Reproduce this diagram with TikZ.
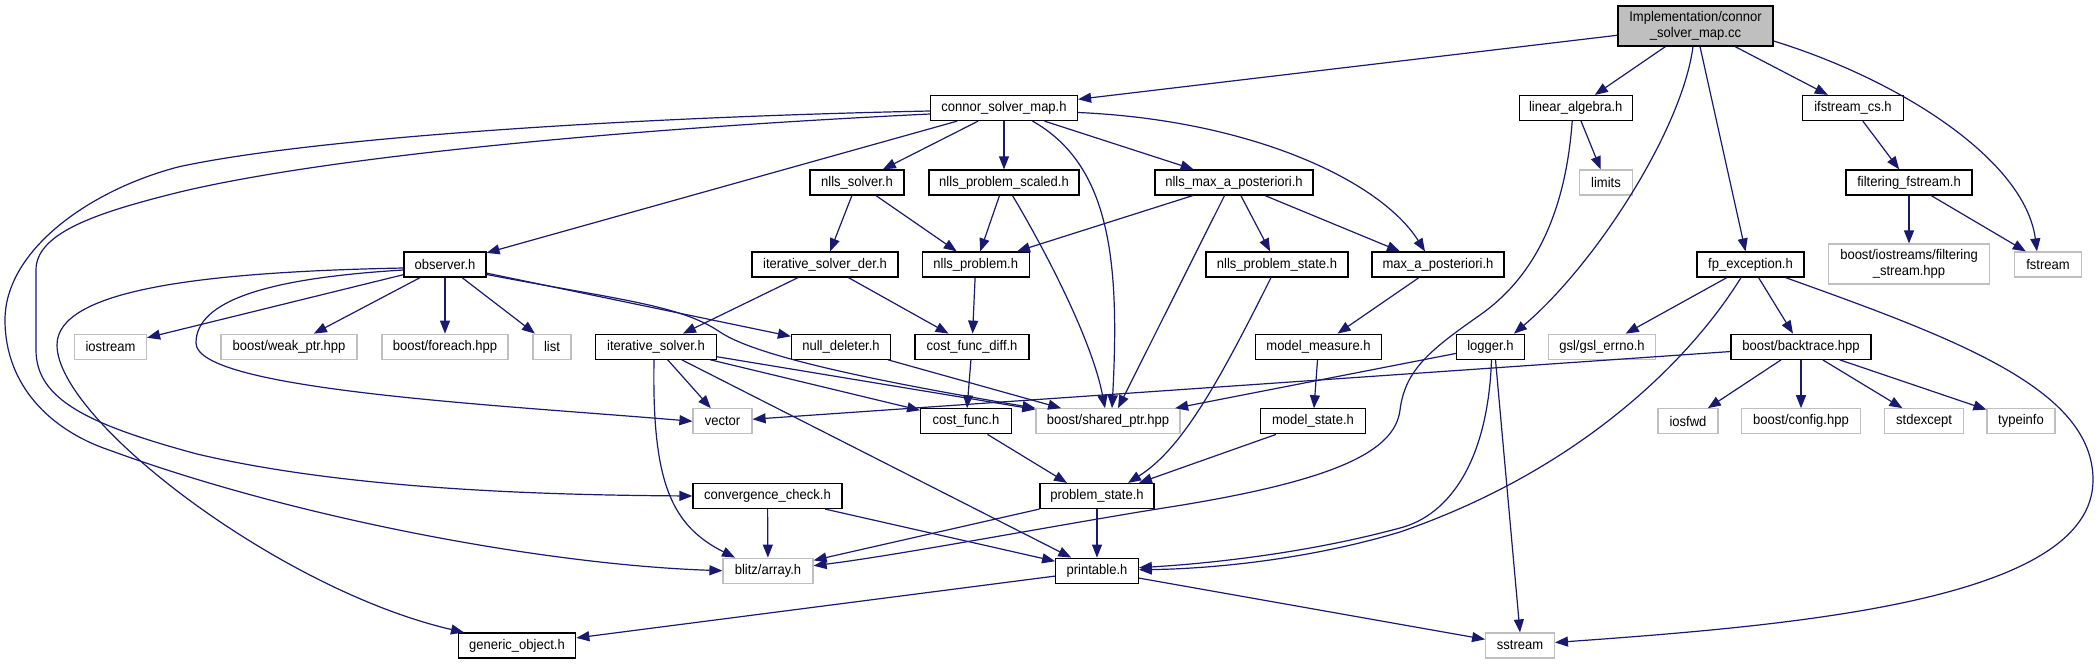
\documentclass[tikz,border=0pt]{standalone}
\usepackage{fontspec}
\setmainfont[FakeStretch=0.93]{Liberation Sans}
\usetikzlibrary{arrows.meta}
\definecolor{edgeblue}{HTML}{191970}
\definecolor{extgray}{HTML}{BFBFBF}
\begin{document}
\begin{tikzpicture}[x=1pt,y=-1pt,
  box/.style={draw=black, line width=1.2pt, rectangle, inner sep=0pt, minimum height=25pt,
              font=\fontsize{14}{16}\selectfont, align=center},
  ext/.style={box, draw=extgray},
  edge/.style={draw=edgeblue, line width=1.2pt, -{Triangle[length=13pt,width=10pt]}},
]
\useasboundingbox (0,0) rectangle (2099,664);
% rank 0
\node[box, fill=extgray, minimum width=155pt, minimum height=40pt] (root) at (1695.5,26) {Implementation/connor\\\_solver\_map.cc};
% rank 1
\node[box, minimum width=147pt] (csm) at (1004,108) {connor\_solver\_map.h};
\node[box, minimum width=113pt] (la) at (1575.7,108) {linear\_algebra.h};
\node[box, minimum width=101pt] (ifs) at (1853,108) {ifstream\_cs.h};
% rank 2
\node[box, minimum width=94pt] (nsolver) at (857,182.5) {nlls\_solver.h};
\node[box, minimum width=150pt] (nps) at (1004,182.5) {nlls\_problem\_scaled.h};
\node[box, minimum width=158pt] (nmap) at (1234,182.5) {nlls\_max\_a\_posteriori.h};
\node[ext, minimum width=53pt] (limits) at (1606,182.5) {limits};
\node[box, minimum width=126pt] (ffs) at (1909,182.5) {filtering\_fstream.h};
% rank 3
\node[box, minimum width=82pt] (observer) at (445,264.5) {observer.h};
\node[box, minimum width=146pt] (isd) at (825,264.5) {iterative\_solver\_der.h};
\node[box, minimum width=107pt] (np) at (975.7,264.5) {nlls\_problem.h};
\node[box, minimum width=142pt] (nps2) at (1277,264.5) {nlls\_problem\_state.h};
\node[box, minimum width=132pt] (map) at (1438,264.5) {max\_a\_posteriori.h};
\node[box, minimum width=107pt] (fpe) at (1750.5,264.5) {fp\_exception.h};
\node[ext, minimum width=161pt, minimum height=40pt] (bifs) at (1909,264) {boost/iostreams/filtering\\\_stream.hpp};
\node[ext, minimum width=67pt] (fstream) at (2048,264.5) {fstream};
% rank 4
\node[ext, minimum width=72pt] (iostream) at (110.5,346.7) {iostream};
\node[ext, minimum width=136pt] (weak) at (289,346.7) {boost/weak\_ptr.hpp};
\node[ext, minimum width=126pt] (foreach) at (445,346.7) {boost/foreach.hpp};
\node[ext, minimum width=38pt] (list) at (552,346.7) {list};
\node[box, minimum width=121pt] (is) at (656,346.7) {iterative\_solver.h};
\node[box, minimum width=99pt] (nd) at (841,346.7) {null\_deleter.h};
\node[box, minimum width=114pt] (cfd) at (972,346.7) {cost\_func\_diff.h};
\node[box, minimum width=125.5pt] (mm) at (1318.5,346.7) {model\_measure.h};
\node[box, minimum width=68pt] (logger) at (1490.5,346.7) {logger.h};
\node[ext, minimum width=107pt] (gsl) at (1602,346.7) {gsl/gsl\_errno.h};
\node[box, minimum width=140pt] (bt) at (1801,346.7) {boost/backtrace.hpp};
% rank 5
\node[ext, minimum width=59pt] (vector) at (722.5,421.3) {vector};
\node[box, minimum width=90.6pt] (cf) at (966,421.3) {cost\_func.h};
\node[ext, minimum width=144pt] (sp) at (1108,421.3) {boost/shared\_ptr.hpp};
\node[box, minimum width=104.5pt] (ms) at (1313,421.3) {model\_state.h};
\node[ext, minimum width=60pt] (iosfwd) at (1688,421.3) {iosfwd};
\node[ext, minimum width=118.5pt] (config) at (1801,421.3) {boost/config.hpp};
\node[ext, minimum width=79pt] (stdexcept) at (1924,421.3) {stdexcept};
\node[ext, minimum width=68pt] (typeinfo) at (2021,421.3) {typeinfo};
% rank 6
\node[box, minimum width=149pt] (cc) at (767.5,496) {convergence\_check.h};
\node[box, minimum width=114pt] (ps) at (1097,496) {problem\_state.h};
% rank 7
\node[ext, minimum width=90pt] (blitz) at (768,570.7) {blitz/array.h};
\node[box, minimum width=82.6pt] (printable) at (1097,570.7) {printable.h};
% rank 8
\node[box, minimum width=117.5pt] (go) at (517,645.5) {generic\_object.h};
\node[ext, minimum width=68.7pt] (sstream) at (1520,645.5) {sstream};

% ---- edges from root
\draw[edge] (root) -- (csm);
\draw[edge] (root) -- (la);
\draw[edge] ([xshift=-2.5pt]root.south) .. controls (1682,130) and (1595,265) .. ([xshift=23.5pt]logger.north);
\draw[edge] ([xshift=4.5pt]root.south) -- ([xshift=-5pt]fpe.north);
\draw[edge] (root) -- (ifs);
\draw[edge] ([yshift=-15pt]root.east) .. controls (1900,80) and (2025,160) .. ([xshift=-11pt]fstream.north);
% ---- connor_solver_map.h
\draw[edge] (csm) -- (observer);
\draw[edge] ([yshift=-3pt]csm.west) .. controls (600,118) and (300,140) .. (178,167)
   .. controls (90,190) and (5,250) .. (5,320)
   .. controls (5,385) and (50,430) .. (109,450)
   .. controls (300,520) and (550,565) .. (blitz.west);
\draw[edge] ([yshift=-6pt]csm.west) .. controls (600,130) and (300,160) .. (164,196)
   .. controls (90,215) and (36,235) .. (36,270) -- (36,350)
   .. controls (36,400) and (90,425) .. (197,454)
   .. controls (350,490) and (550,495) .. (cc.west);
\draw[edge] (csm) -- (nsolver);
\draw[edge] (csm) -- (nps);
\draw[edge] ([xshift=28.5pt]csm.south) .. controls (1110,165) and (1120,260) .. ([xshift=4pt]sp.north);
\draw[edge] (csm) -- (nmap);
\draw[edge] ([yshift=-4.5pt]csm.east) .. controls (1250,120) and (1380,180) .. ([xshift=-13pt]map.north);
% ---- second level
\draw[edge] (nsolver) -- (isd);
\draw[edge] (nsolver) -- (np);
\draw[edge] (nps) -- (np);
\draw[edge] ([xshift=8.5pt]nps.south) .. controls (1045,250) and (1092,340) .. ([xshift=-3pt]sp.north);
\draw[edge] (nmap) -- (np);
\draw[edge] ([xshift=-9.5pt]nmap.south) -- ([xshift=10pt]sp.north);
\draw[edge] (nmap) -- (nps2);
\draw[edge] ([xshift=31pt]nmap.south) -- ([xshift=-38pt]map.north);
\draw[edge] (la) -- (limits);
\draw[edge] ([xshift=-3.5pt]la.south) .. controls (1565,220) and (1530,280) .. (1480,315)
   .. controls (1430,350) and (1405,370) .. (1400,410)
   .. controls (1395,450) and (1340,480) .. (1170,507)
   .. controls (1068,523) and (900,555) .. ([yshift=5pt]blitz.east);
\draw[edge] (ifs) -- (ffs);
\draw[edge] (ffs) -- (bifs);
\draw[edge] (ffs) -- (fstream);
% ---- third level
\draw[edge] (isd) -- (is);
\draw[edge] (isd) -- (cfd);
\draw[edge] (np) -- (cfd);
\draw[edge] ([xshift=-6pt]nps2.south) .. controls (1215,390) and (1180,450) .. ([xshift=31pt]ps.north);
\draw[edge] (map) -- (mm);
\draw[edge] (fpe) -- (gsl);
\draw[edge] (fpe) -- (bt);
\draw[edge] ([xshift=-9.5pt]fpe.south) .. controls (1690,360) and (1580,470) .. (1400,532)
   .. controls (1300,562) and (1200,569) .. ([yshift=1pt]printable.east);
\draw[edge] ([xshift=35pt]fpe.south) .. controls (1960,340) and (2093,390) .. (2093,480)
   .. controls (2093,600) and (1800,625) .. ([yshift=3pt]sstream.east);
% ---- observer.h
\draw[edge] (observer) -- (iostream);
\draw[edge] (observer) -- (weak);
\draw[edge] (observer) -- (foreach);
\draw[edge] (observer) -- (list);
\draw[edge] (observer) -- (nd);
\draw[edge] ([yshift=-10pt]observer.east) .. controls (620,300) and (680,305) .. (720,332)
   .. controls (760,359) and (900,385) .. (sp.north west);
\draw[edge] ([yshift=-3.5pt]observer.west) .. controls (200,272) and (57,290) .. (57,345)
   .. controls (57,420) and (280,590) .. ([xshift=-53pt]go.north);
\draw[edge] ([yshift=-5.5pt]observer.west) .. controls (270,278) and (196,300) .. (196,343)
   .. controls (196,390) and (500,405) .. (vector.west);
% ---- fourth level
\draw[edge] (is) -- (vector);
\draw[edge] (is) -- (cf);
\draw[edge] (is) -- (sp);
\draw[edge] ([xshift=-2pt]is.south) .. controls (652,480) and (670,525) .. ([xshift=-33pt]blitz.north);
\draw[edge] (is) -- (printable);
\draw[edge] (nd) -- (sp);
\draw[edge] (cfd) -- (cf);
\draw[edge] (mm) -- (ms);
\draw[edge] (logger) -- (sp);
\draw[edge] ([xshift=1pt]logger.south) .. controls (1488,460) and (1450,515) .. (1400,528)
   .. controls (1300,555) and (1200,564) .. ([yshift=3pt]printable.east);
\draw[edge] ([xshift=5pt]logger.south) -- (sstream.north);
\draw[edge] (bt) -- (vector);
\draw[edge] (bt) -- (iosfwd);
\draw[edge] (bt) -- (config);
\draw[edge] (bt) -- (stdexcept);
\draw[edge] (bt) -- (typeinfo);
% ---- fifth level
\draw[edge] (cf) -- ([xshift=-30pt]ps.north);
\draw[edge] (ms) -- ([xshift=42pt]ps.north);
\draw[edge] (cc) -- (blitz);
\draw[edge] (cc) -- (printable);
\draw[edge] (ps) -- (blitz);
\draw[edge] (ps) -- (printable);
\draw[edge] (printable) -- (go);
\draw[edge] (printable) -- (sstream);
\end{tikzpicture}
\end{document}
